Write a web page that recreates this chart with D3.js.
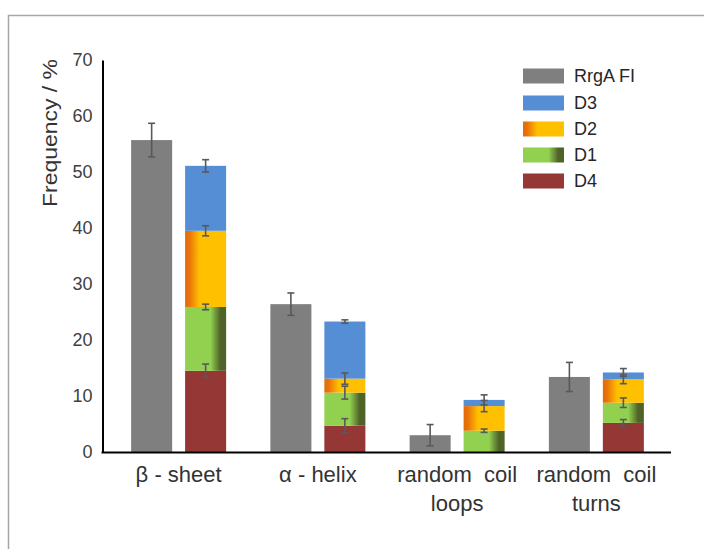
<!DOCTYPE html>
<html>
<head>
<meta charset="utf-8">
<script src="https://cdn.jsdelivr.net/npm/d3@7/dist/d3.min.js"></script>
<style>
  html, body { margin: 0; padding: 0; background: #ffffff; }
  svg { display: block; font-family: "Liberation Sans", Arial, sans-serif; }
</style>
</head>
<body>
<svg id="chart" width="704" height="549"></svg>
<script>
// Secondary-structure content per category (frequency, %)
const categories = ["β - sheet", "α - helix", "random coil loops", "random coil turns"];
const categoryLines = [["β - sheet"], ["α - helix"], ["random  coil", "loops"], ["random  coil", "turns"]];

// Full-length protein
const rrgaValues = [55.7, 26.4, 3.0, 13.4];
const rrgaErrors = [3.0, 2.0, 1.9, 2.6];

// Domain contributions, stacked bottom to top: D4, D1, D2, D3
const d4Values = [14.5, 4.7, 0, 5.2];
const d1Values = [11.4, 5.9, 3.8, 3.6];
const d2Values = [13.6, 2.5, 4.4, 4.2];
const d3Values = [11.6, 10.2, 1.1, 1.2];
const d4Errors = [1.2, 1.25, 0, 0.6];
const d1Errors = [0.5, 1.15, 0.3, 0.85];
const d2Errors = [0.9, 1.0, 1.0, 0.8];
const d3Errors = [1.1, 0.3, 0.9, 0.7];

const yTicks = [0, 10, 20, 30, 40, 50, 60, 70];
const legendItems = ["RrgA FI", "D3", "D2", "D1", "D4"];

const svg = d3.select("#chart");
const defs = svg.append("defs");

// Horizontal gradient fills for D2 and D1
const g2 = defs.append("linearGradient").attr("id", "gradD2")
  .attr("x1", "0%").attr("x2", "100%").attr("y1", "0%").attr("y2", "0%");
[[0, "#e26b0a"], [0.1, "#e8720a"], [0.35, "#ffc000"], [1, "#ffc000"]]
  .forEach(([o, c]) => g2.append("stop").attr("offset", o).attr("stop-color", c));
const g1 = defs.append("linearGradient").attr("id", "gradD1")
  .attr("x1", "0%").attr("x2", "100%").attr("y1", "0%").attr("y2", "0%");
[[0, "#92d050"], [0.62, "#92d050"], [0.86, "#4f6228"], [1, "#4f6228"]]
  .forEach(([o, c]) => g1.append("stop").attr("offset", o).attr("stop-color", c));

const colors = {
  "RrgA FI": "#7f7f7f",
  "D3": "#558ed5",
  "D2": "url(#gradD2)",
  "D1": "url(#gradD1)",
  "D4": "#953735"
};

// Outer frame
svg.append("rect")
  .attr("x", 8.5).attr("y", 15.5).attr("width", 720).attr("height", 560)
  .attr("fill", "none").attr("stroke", "#a6a6a6").attr("stroke-width", 1.5);

const y = d3.scaleLinear().domain([0, 70]).range([452, 60]);
const x0 = d3.scaleBand().domain(categories).range([109, 666]).padding(0);
const x1 = d3.scaleBand().domain(["full", "domains"])
  .range([-47.5, 47.5]).paddingInner(0.24).paddingOuter(0);

// Stack of domain segments
const rows = categories.map((c, i) => ({
  cat: c, D4: d4Values[i], D1: d1Values[i], D2: d2Values[i], D3: d3Values[i]
}));
const errs = { D4: d4Errors, D1: d1Errors, D2: d2Errors, D3: d3Errors };
const stack = d3.stack().keys(["D4", "D1", "D2", "D3"])(rows);

const plot = svg.append("g");

// Grey bars
categories.forEach((c, i) => {
  const cx = x0(c) + x0.bandwidth() / 2;
  plot.append("rect")
    .attr("x", cx + x1("full")).attr("width", x1.bandwidth())
    .attr("y", y(rrgaValues[i])).attr("height", y(0) - y(rrgaValues[i]))
    .attr("fill", colors["RrgA FI"]);
});

// Stacked domain bars
stack.forEach(layer => {
  layer.forEach((d, i) => {
    if (d[1] - d[0] <= 0) return;
    const cx = x0(categories[i]) + x0.bandwidth() / 2;
    plot.append("rect")
      .attr("x", cx + x1("domains")).attr("width", x1.bandwidth())
      .attr("y", y(d[1])).attr("height", y(d[0]) - y(d[1]))
      .attr("fill", colors[layer.key]);
  });
});

// Error bars
const errG = svg.append("g").attr("stroke", "#595959").attr("stroke-width", 1.6);
function errorBar(cx, v, e) {
  if (e <= 0) return;
  const cap = 3.5;
  errG.append("line").attr("x1", cx).attr("x2", cx).attr("y1", y(v + e)).attr("y2", y(v - e));
  errG.append("line").attr("x1", cx - cap).attr("x2", cx + cap).attr("y1", y(v + e)).attr("y2", y(v + e));
  errG.append("line").attr("x1", cx - cap).attr("x2", cx + cap).attr("y1", y(v - e)).attr("y2", y(v - e));
}
categories.forEach((c, i) => {
  const cx = x0(c) + x0.bandwidth() / 2;
  errorBar(cx + x1("full") + x1.bandwidth() / 2, rrgaValues[i], rrgaErrors[i]);
});
stack.forEach(layer => {
  layer.forEach((d, i) => {
    if (d[1] - d[0] <= 0) return;
    const cx = x0(categories[i]) + x0.bandwidth() / 2;
    errorBar(cx + x1("domains") + x1.bandwidth() / 2, d[1], errs[layer.key][i]);
  });
});

// Y axis
const yAxis = svg.append("g").attr("transform", "translate(102.5,0)")
  .call(d3.axisLeft(y).tickValues(yTicks).tickSize(0).tickPadding(10));
yAxis.select(".domain").attr("stroke", "#000").attr("stroke-width", 2);
yAxis.selectAll("text")
  .attr("font-size", 18).attr("fill", "#404040")
  .style("font-family", "'Liberation Sans', Arial, sans-serif");

// X axis baseline
svg.append("line")
  .attr("x1", 101.5).attr("x2", 671).attr("y1", y(0) + 0.5).attr("y2", y(0) + 0.5)
  .attr("stroke", "#000").attr("stroke-width", 2);

// Category labels
categories.forEach((c, i) => {
  const cx = x0(c) + x0.bandwidth() / 2;
  const t = svg.append("text")
    .attr("text-anchor", "middle").attr("font-size", 22).attr("fill", "#333333")
    .style("white-space", "pre");
  categoryLines[i].forEach((ln, j) => {
    t.append("tspan").attr("x", cx).attr("y", 482 + j * 29).text(ln);
  });
});

// Y axis title
svg.append("text")
  .attr("transform", "translate(57,133) rotate(-90)")
  .attr("text-anchor", "middle")
  .attr("font-size", 20).attr("fill", "#333333")
  .attr("textLength", 148).attr("lengthAdjust", "spacingAndGlyphs")
  .text("Frequency / %");

// Legend
const legendY = [76, 103, 129, 155, 181];
legendItems.forEach((k, i) => {
  svg.append("rect")
    .attr("x", 523).attr("y", legendY[i] - 7.5).attr("width", 41).attr("height", 15)
    .attr("fill", colors[k]);
  svg.append("text")
    .attr("x", 574).attr("y", legendY[i]).attr("dy", "0.35em")
    .attr("font-size", 18).attr("fill", "#262626")
    .text(k);
});
</script>
</body>
</html>
